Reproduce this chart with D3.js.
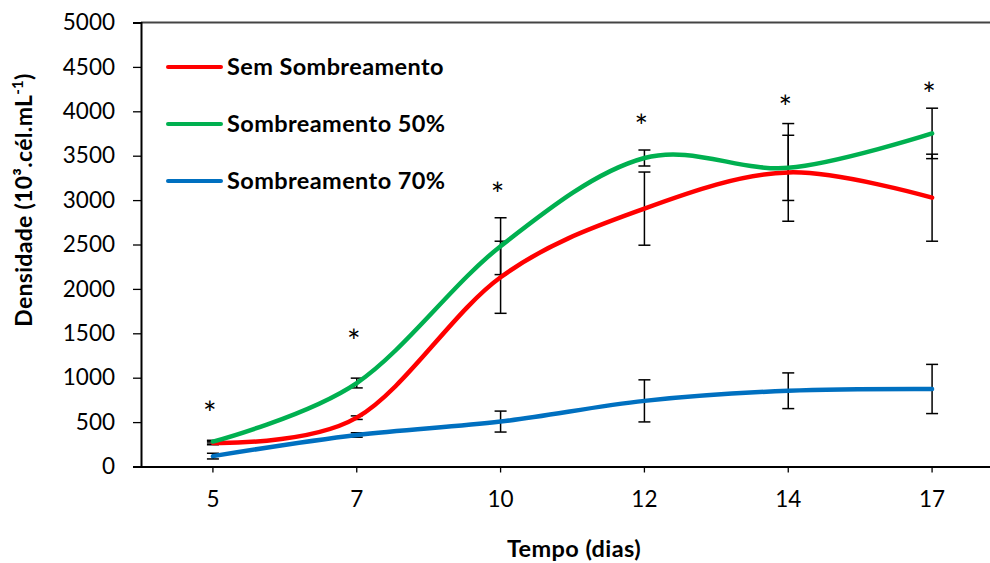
<!DOCTYPE html>
<html>
<head>
    <meta charset="utf-8">
    <title>Densidade x Tempo</title>
    <script src="https://d3js.org/d3.v7.min.js"></script>
    <style>
        body { margin: 0; padding: 0; background: #fff; }
        text { font-family: Lato, "Open Sans", sans-serif; fill: #000; }
    </style>
</head>
<body>
    <svg id="svg" width="990" height="563"></svg>

    <script>
        // Data
        const days = ["5", "7", "10", "12", "14", "17"];
        const seriesNames = ["Sem Sombreamento", "Sombreamento 50%", "Sombreamento 70%"];
        const seriesColors = ["#ff0000", "#00b050", "#0070c0"];
        const semSombra = [265, 550, 2131, 2904, 3312, 3027];
        const semSombraErr = [20, 20, 406, 412, 550, 490];
        const sombra50 = [280, 940, 2481, 3474, 3363, 3751];
        const sombra50Err = [15, 55, 320, 90, 367, 284];
        const sombra70 = [117, 355, 506, 739, 853, 873];
        const sombra70Err = [32, 25, 118, 237, 201, 277];
        const asteriskAt = [675, 1484, 3140, 3903, 4118, 4261];
        const yTicks = [0, 500, 1000, 1500, 2000, 2500, 3000, 3500, 4000, 4500, 5000];

        const series = [
            { name: seriesNames[0], color: seriesColors[0], values: semSombra, err: semSombraErr },
            { name: seriesNames[1], color: seriesColors[1], values: sombra50, err: sombra50Err },
            { name: seriesNames[2], color: seriesColors[2], values: sombra70, err: sombra70Err }
        ];

        const svg = d3.select("#svg");
        const plotL = 141, plotR = 1004, plotT = 22.5, plotB = 466.5;

        const x = d3.scaleBand().domain(days).range([plotL, plotR]);
        const cx = d => x(d) + x.bandwidth() / 2;
        const y = d3.scaleLinear().domain([0, 5000]).range([plotB, plotT]);

        // Top border of the plot area
        svg.append("line")
            .attr("x1", plotL).attr("x2", plotR)
            .attr("y1", plotT).attr("y2", plotT)
            .attr("stroke", "#444").attr("stroke-width", 2);

        // Y axis
        const yAxis = svg.append("g")
            .attr("transform", `translate(${plotL},0)`)
            .call(d3.axisLeft(y).tickValues(yTicks).tickSize(8).tickPadding(18).tickFormat(d3.format("d")));
        yAxis.select(".domain").attr("stroke", "#000").attr("stroke-width", 2);
        yAxis.selectAll(".tick line").attr("stroke", "#000").attr("stroke-width", 1.3);
        yAxis.selectAll("text").attr("font-size", 22.5).attr("fill", "#000")
            .style("font-family", "Lato, sans-serif");

        // X axis
        const xAxis = svg.append("g")
            .attr("transform", `translate(0,${plotB})`)
            .call(d3.axisBottom(x).tickSize(6).tickSizeOuter(0).tickPadding(19));
        xAxis.select(".domain").attr("stroke", "#000").attr("stroke-width", 2);
        xAxis.selectAll(".tick line").attr("stroke", "#000").attr("stroke-width", 1.3);
        xAxis.selectAll("text").attr("font-size", 22.5).attr("fill", "#000")
            .style("font-family", "Lato, sans-serif");

        // Error bars
        const capW = 6;
        series.forEach(s => {
            const g = svg.append("g");
            days.forEach((d, i) => {
                const hi = y(s.values[i] + s.err[i]);
                const lo = y(s.values[i] - s.err[i]);
                g.append("line").attr("x1", cx(d)).attr("x2", cx(d))
                    .attr("y1", hi).attr("y2", lo)
                    .attr("stroke", "#000").attr("stroke-width", 1.5);
                [hi, lo].forEach(v => {
                    g.append("line").attr("x1", cx(d) - capW).attr("x2", cx(d) + capW)
                        .attr("y1", v).attr("y2", v)
                        .attr("stroke", "#000").attr("stroke-width", 1.5);
                });
            });
        });

        // Smoothed lines
        const line = d3.line()
            .x((v, i) => cx(days[i]))
            .y(v => y(v))
            .curve(d3.curveCardinal.tension(0));

        series.forEach(s => {
            svg.append("path")
                .attr("d", line(s.values))
                .attr("fill", "none")
                .attr("stroke", s.color)
                .attr("stroke-width", 4.5)
                .attr("stroke-linecap", "round");
        });

        // Asterisks
        svg.selectAll(".star")
            .data(asteriskAt)
            .enter()
            .append("text")
                .attr("class", "star")
                .attr("x", (v, i) => cx(days[i]) - 3)
                .attr("y", v => y(v) + 18)
                .attr("text-anchor", "middle")
                .attr("font-size", 32)
                .text("*");

        // Legend
        const legend = svg.append("g");
        series.forEach((s, i) => {
            const ly = 67 + i * 57;
            legend.append("line")
                .attr("x1", 168).attr("x2", 221)
                .attr("y1", ly).attr("y2", ly)
                .attr("stroke", s.color).attr("stroke-width", 4)
                .attr("stroke-linecap", "round");
            legend.append("text")
                .attr("x", 227).attr("y", ly + 8)
                .attr("font-size", 23.5).attr("font-weight", "bold")
                .attr("letter-spacing", 0.4)
                .text(s.name);
        });

        // Axis titles
        svg.append("text")
            .attr("x", 574).attr("y", 557)
            .attr("text-anchor", "middle")
            .attr("font-size", 23.5).attr("font-weight", "bold")
            .attr("letter-spacing", 0.4)
            .text("Tempo (dias)");

        const yt = svg.append("text")
            .attr("transform", "translate(32,200) rotate(-90)")
            .attr("text-anchor", "middle")
            .attr("font-size", 23).attr("font-weight", "bold")
            .attr("letter-spacing", 0.3);
        yt.append("tspan").text("Densidade (10³.cél.mL");
        yt.append("tspan").attr("font-size", 15).attr("dy", -9).text("-1");
        yt.append("tspan").attr("dy", 9).text(")");
    </script>
</body>
</html>
